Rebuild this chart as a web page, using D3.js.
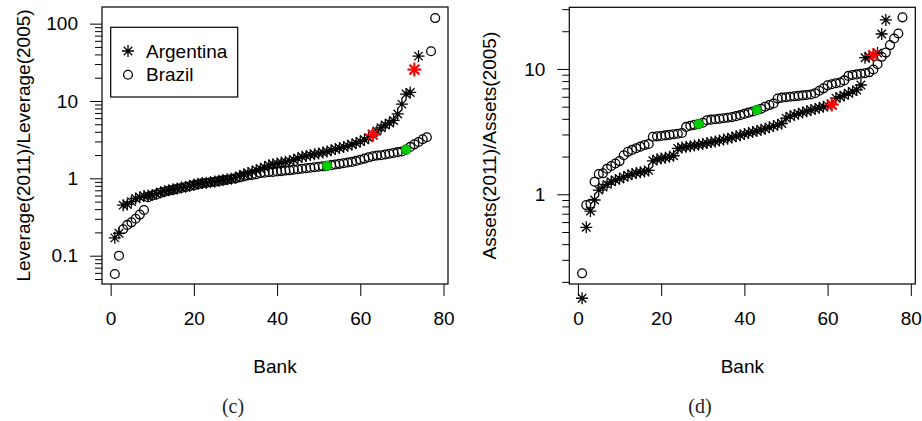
<!DOCTYPE html>
<html><head><meta charset="utf-8">
<script src="https://cdn.jsdelivr.net/npm/d3@7"></script>
<style>
body{margin:0;background:#fff;}
svg{display:block;}
text{font-family:"Liberation Sans",Arial,sans-serif;}
text.cap{font-family:"Liberation Serif","DejaVu Serif",serif;}
</style></head>
<body>
<svg id="chart" width="922" height="421"></svg>
<script>
// ---------- data ----------
const argLeverage = [0.17,0.195,0.45,0.46,0.50,0.55,0.57,0.59,0.60,0.61,
  0.63,0.66,0.68,0.70,0.72,0.74,0.76,0.78,0.80,0.83,
  0.85,0.87,0.88,0.89,0.91,0.93,0.95,0.97,0.99,1.02,
  1.07,1.12,1.17,1.22,1.28,1.33,1.38,1.48,1.52,1.56,
  1.60,1.64,1.68,1.74,1.82,1.90,1.95,2.00,2.05,2.10,
  2.16,2.22,2.30,2.40,2.47,2.55,2.63,2.74,2.86,3.00,
  3.15,3.35,3.67,4.1,4.5,4.9,5.2,5.6,6.8,9.1,
  12.3,12.9,25.5,38];
const brLeverage = [0.058,0.10,0.22,0.25,0.27,0.30,0.34,0.39,0.57,0.60,
  0.62,0.65,0.67,0.69,0.71,0.73,0.75,0.77,0.79,0.81,
  0.84,0.86,0.87,0.89,0.90,0.92,0.94,0.96,0.98,1.00,
  1.03,1.06,1.09,1.11,1.13,1.17,1.18,1.20,1.21,1.23,
  1.24,1.26,1.27,1.29,1.31,1.33,1.35,1.37,1.39,1.41,
  1.43,1.45,1.48,1.51,1.54,1.57,1.60,1.63,1.68,1.74,
  1.80,1.87,1.93,1.97,1.99,2.03,2.08,2.13,2.18,2.22,
  2.35,2.55,2.75,2.95,3.2,3.4,44,118];
const argAssets = [0.148,0.545,0.735,0.90,1.08,1.14,1.20,1.26,1.30,1.33,
  1.37,1.41,1.45,1.48,1.50,1.52,1.55,1.85,1.90,1.93,
  1.96,1.99,2.03,2.32,2.36,2.39,2.42,2.45,2.48,2.52,
  2.56,2.60,2.64,2.68,2.73,2.78,2.84,2.90,2.96,3.02,
  3.08,3.14,3.20,3.27,3.34,3.42,3.50,3.58,3.67,4.05,
  4.20,4.30,4.40,4.50,4.60,4.70,4.80,4.90,5.00,5.10,
  5.20,5.85,6.00,6.15,6.40,6.60,6.80,7.45,12.3,12.5,
  12.9,13.4,19.0,24.6];
const brAssets = [0.234,0.82,0.84,1.26,1.45,1.47,1.60,1.68,1.76,1.84,
  2.05,2.18,2.26,2.33,2.40,2.47,2.52,2.88,2.90,2.92,
  2.95,2.98,3.01,3.04,3.08,3.45,3.52,3.58,3.64,3.72,
  3.90,3.94,3.97,4.00,4.04,4.08,4.13,4.20,4.28,4.38,
  4.48,4.58,4.71,4.82,5.00,5.15,5.30,5.80,5.90,5.95,
  6.00,6.05,6.10,6.15,6.20,6.25,6.40,6.70,7.00,7.40,
  7.55,7.70,7.80,8.10,8.80,8.95,9.05,9.15,9.25,9.40,
  9.90,10.9,12.5,13.5,15.5,17.5,19.2,25.8];
// highlighted banks (1-based index)
const redLeverage = [63,73];
const greenLeverage = [52,71];
const redAssets = [61,71];
const greenAssets = [29,43];
const xTicks = [0,20,40,60,80];
const yTicksLeverage = [0.1,1,10,100];
const yTicksAssets = [1,10];
const legendLabels = ["Argentina","Brazil"];

// ---------- drawing ----------
const svg = d3.select("#chart");
const FS = 19;
const ARM = 6;

function starPath(a){
  const d = a/Math.SQRT2;
  return `M${-a},0H${a}M0,${-a}V${a}M${-d},${-d}L${d},${d}M${-d},${d}L${d},${-d}`;
}

function panel(cfg){
  const g = svg.append("g");
  const {left,right,top,bottom} = cfg.box;
  const x = d3.scaleLinear().domain([-2.08,81.08]).range([left,right]);
  const y = d3.scaleLog().domain(cfg.ydom).range([bottom,top]);

  const xa = g.append("g").attr("transform",`translate(0,${bottom})`)
    .call(d3.axisBottom(x).tickValues(xTicks).tickSize(12).tickPadding(16).tickFormat(d3.format("d")));
  const ya = g.append("g").attr("transform",`translate(${left},0)`)
    .call(d3.axisLeft(y).tickValues(cfg.yticks).tickSize(12).tickPadding(12).tickFormat(d=>String(d)));
  const minor = [];
  for(let e=-3;e<=3;e++) for(let m=2;m<=9;m++){
    const v = m*Math.pow(10,e);
    if(v>=cfg.ydom[0] && v<=cfg.ydom[1]) minor.push(v);
  }
  const ym = g.append("g").attr("transform",`translate(${left},0)`)
    .call(d3.axisLeft(y).tickValues(minor).tickSize(7).tickFormat(""));
  [xa,ya,ym].forEach(a=>{
    a.select(".domain").remove();
    a.selectAll("line").attr("stroke","#000").attr("stroke-width",1);
    a.selectAll("text").attr("font-size",FS).attr("fill","#000");
  });

  g.append("rect").attr("x",left).attr("y",top).attr("width",right-left).attr("height",bottom-top)
    .attr("fill","none").attr("stroke","#000").attr("stroke-width",1.2);

  g.append("text").attr("x",(left+right)/2).attr("y",373).attr("text-anchor","middle")
    .attr("font-size",FS).text("Bank");
  g.append("text").attr("transform",`translate(${cfg.ylabX},${(top+bottom)/2}) rotate(-90)`)
    .attr("text-anchor","middle").attr("font-size",FS).text(cfg.ylab);
  g.append("text").attr("class","cap").attr("x",cfg.capX).attr("y",413).attr("text-anchor","middle")
    .attr("font-size",20).attr("fill","#222").text(cfg.cap);

  const arg = cfg.arg.map((v,i)=>({i:i+1,v}));
  const br = cfg.br.map((v,i)=>({i:i+1,v}));
  g.append("g").selectAll("path").data(arg).join("path")
    .attr("transform",d=>`translate(${x(d.i)},${y(d.v)})`)
    .attr("d",starPath(ARM)).attr("stroke","#000").attr("stroke-width",1.3).attr("fill","none");
  g.append("g").selectAll("circle").data(br).join("circle")
    .attr("cx",d=>x(d.i)).attr("cy",d=>y(d.v)).attr("r",4.4)
    .attr("fill","none").attr("stroke","#000").attr("stroke-width",1.3);
  g.append("g").selectAll("path").data(arg.filter(d=>cfg.red.includes(d.i))).join("path")
    .attr("transform",d=>`translate(${x(d.i)},${y(d.v)})`)
    .attr("d",starPath(ARM+1)).attr("stroke","#ff0000").attr("stroke-width",2).attr("fill","none");
  g.append("g").selectAll("circle").data(br.filter(d=>cfg.green.includes(d.i))).join("circle")
    .attr("cx",d=>x(d.i)).attr("cy",d=>y(d.v)).attr("r",4.8)
    .attr("fill","#00cd00").attr("stroke","#00a800").attr("stroke-width",0.6);
  return {x,y,g};
}

panel({box:{left:102,right:448,top:7,bottom:284},
  ydom:[Math.pow(10,-1.366),Math.pow(10,2.215)], yticks:yTicksLeverage,
  arg:argLeverage, br:brLeverage, red:redLeverage, green:greenLeverage,
  ylab:"Leverage(2011)/Leverage(2005)", ylabX:30, cap:"(c)", capX:233});
panel({box:{left:569.3,right:915.3,top:7.3,bottom:284},
  ydom:[Math.pow(10,-0.716),Math.pow(10,1.492)], yticks:yTicksAssets,
  arg:argAssets, br:brAssets, red:redAssets, green:greenAssets,
  ylab:"Assets(2011)/Assets(2005)", ylabX:496, cap:"(d)", capX:700});

// legend in panel (c)
const lg = svg.append("g");
lg.append("rect").attr("x",110.7).attr("y",27.3).attr("width",127).attr("height",69.7)
  .attr("fill","#fff").attr("stroke","#000").attr("stroke-width",1.2);
lg.append("path").attr("transform","translate(128,51)").attr("d",starPath(ARM))
  .attr("stroke","#000").attr("stroke-width",1.3).attr("fill","none");
lg.append("circle").attr("cx",128).attr("cy",74.7).attr("r",4.4)
  .attr("fill","none").attr("stroke","#000").attr("stroke-width",1.3);
lg.selectAll("text.lab").data(legendLabels).join("text").attr("class","lab")
  .attr("x",146).attr("y",(d,i)=>51+i*23.7).attr("dy","0.35em")
  .attr("font-size",FS).text(d=>d);
</script>
</body></html>
